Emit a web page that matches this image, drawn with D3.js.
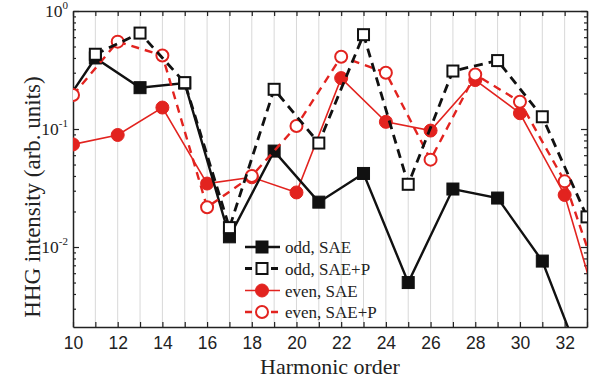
<!DOCTYPE html>
<html>
<head>
<meta charset="utf-8">
<script src="https://cdn.jsdelivr.net/npm/d3@7"></script>
<style>
  body { margin: 0; background: #fff; }
  svg { font-family: "Liberation Serif", "DejaVu Serif", serif; }
</style>
</head>
<body>
<svg id="chart" width="600" height="381"></svg>
<script>
// harmonic orders (points outside 10..33 only carry the lines to the frame)
var oddOrders = [9, 11, 13, 15, 17, 19, 21, 23, 25, 27, 29, 31, 33];
var oddSAE = [0.11, 0.40, 0.224, 0.245, 0.0122, 0.065, 0.024, 0.042, 0.0050, 0.031, 0.026, 0.0076, 0.0008];
var oddPOrders = [11, 13, 15, 17, 19, 21, 23, 25, 27, 29, 31, 33];
var oddSAEP = [0.43, 0.65, 0.247, 0.0146, 0.217, 0.076, 0.63, 0.034, 0.31, 0.38, 0.127, 0.018];
var evenOrders = [10, 12, 14, 16, 18, 20, 22, 24, 26, 28, 30, 32, 34];
var evenSAE = [0.074, 0.089, 0.152, 0.0345, 0.039, 0.029, 0.27, 0.115, 0.097, 0.26, 0.136, 0.0276, 0.0014];
var evenSAEP = [0.194, 0.55, 0.42, 0.0217, 0.04, 0.106, 0.41, 0.30, 0.055, 0.29, 0.17, 0.036, 0.0028];

var xTicks = d3.range(10, 34);
var yDecades = [1, 0.1, 0.01];
var legendLabels = ["odd, SAE", "odd, SAE+P", "even, SAE", "even, SAE+P"];

var red = "#e2231f";
var svg = d3.select("#chart");
var L = 73, R = 587, T = 11, B = 327;

var x = d3.scaleLinear().domain([10, 33]).range([L, R]);
var y = d3.scaleLog().domain([0.0021, 1]).range([B, T]);

// clip to the frame
svg.append("clipPath").attr("id", "clip")
  .append("rect").attr("x", L).attr("y", T).attr("width", R - L).attr("height", B - T);

// vertical grid
svg.append("g").selectAll("line")
  .data(xTicks.filter(function(d) { return d > 10 && d < 33; }))
  .enter().append("line")
  .attr("x1", function(d) { return x(d); }).attr("x2", function(d) { return x(d); })
  .attr("y1", T).attr("y2", B)
  .attr("stroke", "#d8d8d8").attr("stroke-width", 1);

// axes
var xAxis = d3.axisBottom(x).tickValues(xTicks)
  .tickFormat(function(d) { return d % 2 === 0 ? d : ""; })
  .tickSizeInner(-5).tickSizeOuter(0).tickPadding(10);
var gx = svg.append("g").attr("transform", "translate(0," + B + ")").call(xAxis);
gx.selectAll("text").attr("font-size", 17.5).attr("fill", "#222");

var xTop = d3.axisTop(x).tickValues(xTicks).tickFormat("").tickSizeInner(-5).tickSizeOuter(0);
svg.append("g").attr("transform", "translate(0," + T + ")").call(xTop);

var minors = [];
[0.001, 0.01, 0.1].forEach(function(dec) {
  for (var k = 2; k <= 9; k++) {
    var v = dec * k;
    if (v >= 0.0021 && v < 1) minors.push(v);
  }
});

var yAxis = d3.axisLeft(y).tickValues(yDecades).tickFormat("")
  .tickSizeInner(-6).tickSizeOuter(0);
svg.append("g").attr("transform", "translate(" + L + ",0)").call(yAxis);
svg.append("g").attr("transform", "translate(" + L + ",0)")
  .call(d3.axisLeft(y).tickValues(minors).tickFormat("").tickSizeInner(-3).tickSizeOuter(0))
  .select(".domain").remove();
svg.append("g").attr("transform", "translate(" + R + ",0)")
  .call(d3.axisRight(y).tickValues(yDecades).tickFormat("").tickSizeInner(-6).tickSizeOuter(0));
svg.append("g").attr("transform", "translate(" + R + ",0)")
  .call(d3.axisRight(y).tickValues(minors).tickFormat("").tickSizeInner(-3).tickSizeOuter(0))
  .select(".domain").remove();

svg.selectAll(".domain").attr("stroke", "#222").attr("stroke-width", 1.5);
svg.selectAll(".tick line").attr("stroke", "#222").attr("stroke-width", 1.2);

// y tick labels as 10 with superscript
var yl = svg.append("g").selectAll("text").data(yDecades).enter().append("text")
  .attr("x", L - 5).attr("y", function(d) { return y(d) + 6; })
  .attr("text-anchor", "end").attr("fill", "#222").attr("font-size", 17.5);
yl.append("tspan").text("10");
yl.append("tspan").attr("font-size", 11).attr("dy", -8)
  .text(function(d) { return Math.round(Math.log10(d)); });

// axis titles
svg.append("text").attr("x", 330).attr("y", 374).attr("text-anchor", "middle")
  .attr("font-size", 22).attr("fill", "#222").text("Harmonic order");
svg.append("text").attr("transform", "translate(40,197) rotate(-90)")
  .attr("text-anchor", "middle").attr("font-size", 23).attr("fill", "#222")
  .text("HHG intensity (arb. units)");

// series
var series = [
  { xs: oddOrders, ys: oddSAE, color: "#111", width: 2.4, dash: null, shape: "square", fill: "#111" },
  { xs: oddPOrders, ys: oddSAEP, color: "#111", width: 2.8, dash: "9,6", shape: "square", fill: "#fff" },
  { xs: evenOrders, ys: evenSAE, color: red, width: 1.6, dash: null, shape: "circle", fill: red },
  { xs: evenOrders, ys: evenSAEP, color: red, width: 2.4, dash: "8,6", shape: "circle", fill: "#fff" }
];

var line = d3.line().x(function(d) { return x(d[0]); }).y(function(d) { return y(d[1]); });
var plot = svg.append("g").attr("clip-path", "url(#clip)");

function marker(g, s, cx, cy) {
  if (s.shape === "square") {
    var sz = s.fill === "#fff" ? 11 : 12;
    g.append("rect").attr("x", cx - sz / 2).attr("y", cy - sz / 2)
      .attr("width", sz).attr("height", sz)
      .attr("fill", s.fill).attr("stroke", s.color).attr("stroke-width", s.fill === "#fff" ? 2 : 1);
  } else {
    g.append("circle").attr("cx", cx).attr("cy", cy).attr("r", s.fill === "#fff" ? 6 : 6.5)
      .attr("fill", s.fill).attr("stroke", s.color).attr("stroke-width", s.fill === "#fff" ? 2 : 1);
  }
}

// draw order: red solid, black solid, red dashed, black dashed
[2, 0, 3, 1].forEach(function(i) {
  var s = series[i];
  var pts = d3.zip(s.xs, s.ys);
  plot.append("path").datum(pts).attr("d", line)
    .attr("fill", "none").attr("stroke", s.color).attr("stroke-width", s.width)
    .attr("stroke-dasharray", s.dash);
  pts.forEach(function(p) { marker(plot, s, x(p[0]), y(p[1])); });
});

// legend
var lg = svg.append("g");
var rowsY = [247, 268.5, 290.5, 312];
series.forEach(function(s, i) {
  var gy0 = rowsY[i];
  lg.append("line").attr("x1", 245).attr("x2", 280).attr("y1", gy0).attr("y2", gy0)
    .attr("stroke", s.color).attr("stroke-width", s.width)
    .attr("stroke-dasharray", s.dash ? "7,6" : null);
  marker(lg, s, 262, gy0);
  lg.append("text").attr("x", 285).attr("y", gy0 + 6).attr("font-size", 17)
    .attr("fill", "#222").text(legendLabels[i]);
});
</script>
</body>
</html>
